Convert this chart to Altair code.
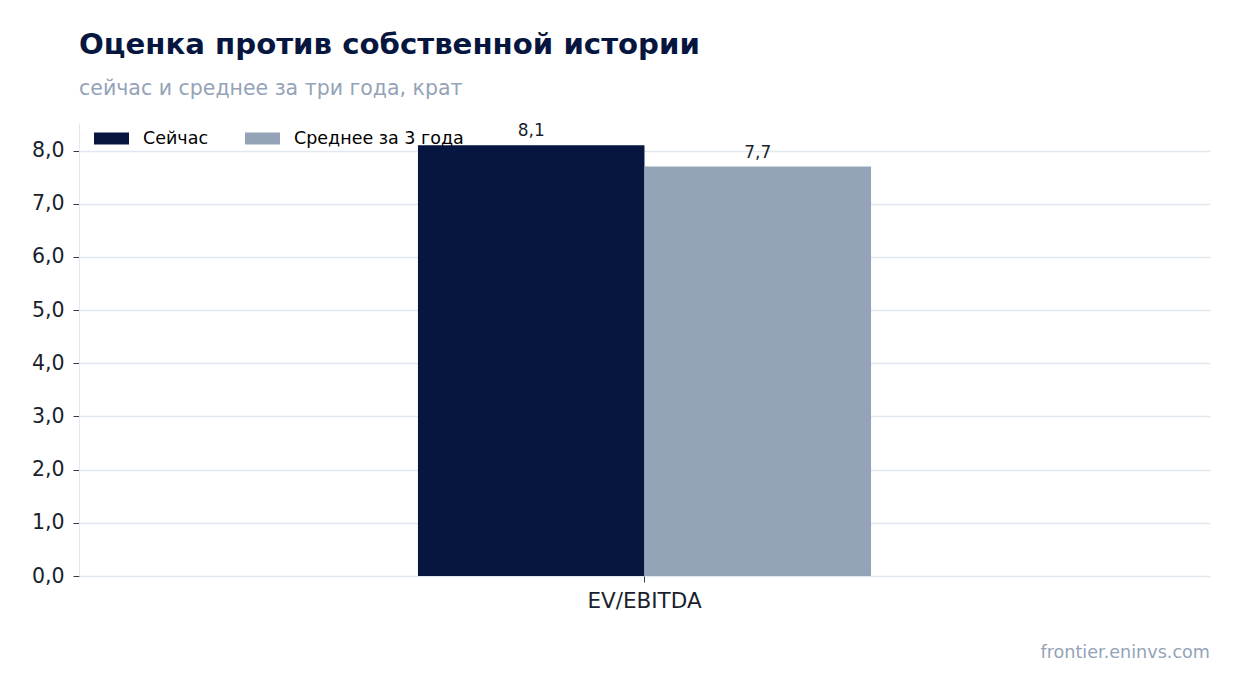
import altair as alt
import pandas as pd

categories = ["EV/EBITDA"]
series = ["Сейчас", "Среднее за 3 года"]
now_values = [8.1]
avg_values = [7.7]
value_labels_now = ["8,1"]
value_labels_avg = ["7,7"]
y_ticks = [0, 1, 2, 3, 4, 5, 6, 7, 8]

rows = []
for i, c in enumerate(categories):
    rows.append({"metric": c, "series": series[0], "value": now_values[i], "label": value_labels_now[i]})
    rows.append({"metric": c, "series": series[1], "value": avg_values[i], "label": value_labels_avg[i]})
df = pd.DataFrame(rows)

NAVY = "#061640"
SLATE = "#94a3b8"
GRID = "#e2e8f0"
FONT = "DejaVu Sans"

x_enc = alt.X("metric:N", title=None,
              scale=alt.Scale(paddingOuter=0.748, paddingInner=0),
              axis=alt.Axis(labelAngle=0, labelFontSize=21.5, labelColor="#1a1f2e",
                            tickColor="#333a48", tickSize=6, labelPadding=8,
                            domain=False, grid=False))
y_enc = alt.Y("value:Q", title=None,
              scale=alt.Scale(domain=[0, 8.52], nice=False),
              axis=alt.Axis(values=y_ticks, labelExpr="replace(format(datum.value, '.1f'), '.', ',')",
                            labelFontSize=20.5, labelColor="#1a1f2e", tickColor="#333a48",
                            tickSize=6, labelPadding=9, domainColor=GRID, gridColor=GRID,
                            gridWidth=1.5))
color_enc = alt.Color("series:N",
                      scale=alt.Scale(domain=series, range=[NAVY, SLATE]),
                      legend=alt.Legend(title=None, orient="none", legendX=15, legendY=-2,
                                        direction="horizontal", labelFontSize=17.5,
                                        labelColor="#000000", labelFont=FONT, labelLimit=400,
                                        symbolType="M-1,-0.343L1,-0.343L1,0.343L-1,0.343Z",
                                        symbolSize=1225, symbolStrokeWidth=0, symbolOpacity=1,
                                        labelOffset=14, columnPadding=36, padding=0))

base = alt.Chart(df)
bars = base.mark_bar(size=226.5).encode(
    x=x_enc, y=y_enc, color=color_enc,
    xOffset=alt.XOffset("series:N", scale=alt.Scale(domain=series, paddingInner=0, paddingOuter=0)),
)
labels = base.mark_text(baseline="alphabetic", dy=-9, fontSize=17, color="#1a1f2e", font=FONT).encode(
    x="metric:N", y="value:Q", text="label:N",
    xOffset=alt.XOffset("series:N", scale=alt.Scale(domain=series)),
)
footer = alt.Chart(pd.DataFrame({"t": ["frontier.eninvs.com"]})).mark_text(
    align="right", baseline="alphabetic", fontSize=17.6, color=SLATE, font=FONT
).encode(x=alt.value(1131), y=alt.value(535), text="t:N")

chart = alt.layer(bars, labels, footer).properties(
    width=1131, height=453,
    title=alt.Title("Оценка против собственной истории",
                    subtitle="сейчас и среднее за три года, крат",
                    anchor="start", frame="group", fontSize=29.2, font=FONT, fontWeight="bold",
                    color="#06163f",
                    subtitleFontSize=20.5, subtitleFont=FONT, subtitleColor=SLATE,
                    subtitlePadding=18, offset=22),
    autosize=alt.AutoSizeParams(type="none"),
    padding={"left": 71, "top": 115, "right": 22, "bottom": 100},
).configure(font=FONT).configure_view(stroke=None)

chart.save("out.html", embed_options={"renderer": "svg", "actions": False})
